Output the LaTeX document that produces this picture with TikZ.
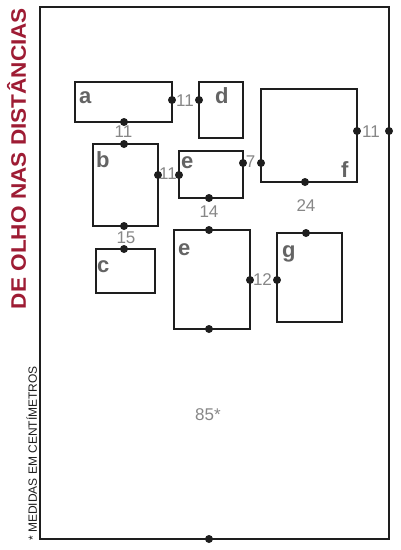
\documentclass[tikz,border=0pt]{standalone}
\usepackage{fontspec}
\setmainfont{Liberation Sans}
\usepackage{graphicx}
\definecolor{titlered}{RGB}{158,28,52}
\definecolor{inkline}{RGB}{30,30,30}
\definecolor{lettergray}{RGB}{100,100,100}
\definecolor{numgray}{RGB}{135,135,135}
\begin{document}
\begin{tikzpicture}[x=1pt,y=-1pt,
  room/.style={draw=inkline,line width=2pt,outer sep=0pt,inner sep=0pt},
  boxs/.style={draw=inkline,line width=2pt,outer sep=0pt,inner sep=0pt,rectangle},
  dotm/.style={circle,fill=inkline,inner sep=0pt,minimum size=8pt},
  lbl/.style={anchor=base west,inner sep=0pt,text=lettergray,font=\fontsize{22}{22}\selectfont\bfseries},
  num/.style={anchor=center,inner sep=0pt,text=numgray,font=\fontsize{17}{17}\selectfont}]
\useasboundingbox (0,0) rectangle (400,550);
\fill[white] (0,0) rectangle (400,550);
% outer frame
\node[boxs,minimum width=349pt,minimum height=532pt] (frame) at (214.5,273) {};
% boxes
\node[boxs,minimum width=97pt,minimum height=40pt] (a) at (123.5,102) {};
\node[boxs,minimum width=44pt,minimum height=56pt] (d) at (221,110) {};
\node[boxs,minimum width=65pt,minimum height=82pt] (b) at (125.5,185) {};
\node[boxs,minimum width=64pt,minimum height=47pt] (es) at (211,174.5) {};
\node[boxs,minimum width=96pt,minimum height=93pt] (f) at (309,135.5) {};
\node[boxs,minimum width=59pt,minimum height=44pt] (c) at (125.5,271) {};
\node[boxs,minimum width=76pt,minimum height=99pt] (eb) at (212,279.5) {};
\node[boxs,minimum width=65pt,minimum height=89pt] (g) at (309.5,277.5) {};
% letters
\node[lbl] (la) at (79,103) {a};
\node[lbl] (ld) at (215,103) {d};
\node[lbl] (lb) at (96,167) {b};
\node[lbl] (les) at (181,168) {e};
\node[lbl] (lf) at (341,177) {f};
\node[lbl] (lc) at (97,272) {c};
\node[lbl] (leb) at (178,255) {e};
\node[lbl] (lg) at (282,257) {g};
% dots
\node[dotm] (aR) at (172,100) {};
\node[dotm] (aB) at (124,122) {};
\node[dotm] (dL) at (199,100) {};
\node[dotm] (bT) at (124,144) {};
\node[dotm] (bR) at (158,175) {};
\node[dotm] (bB) at (124,226) {};
\node[dotm] (esL) at (179,175) {};
\node[dotm] (esR) at (243,163) {};
\node[dotm] (esB) at (209,198) {};
\node[dotm] (fL) at (261,163) {};
\node[dotm] (fR) at (357,131) {};
\node[dotm] (fB) at (305,182) {};
\node[dotm] (cT) at (124,249) {};
\node[dotm] (ebT) at (209,230) {};
\node[dotm] (ebR) at (250,280) {};
\node[dotm] (ebB) at (209,329) {};
\node[dotm] (gT) at (306,233) {};
\node[dotm] (gL) at (277,280) {};
\node[dotm] (frR) at (389,131) {};
\node[dotm] (frB) at (209,539) {};
% distances
\node[num] (n1) at (185,101) {11};
\node[num] (n2) at (123.5,131.5) {11};
\node[num] (n3) at (168,174) {11};
\node[num] (n4) at (250.5,162) {7};
\node[num] (n5) at (209,211.5) {14};
\node[num] (n6) at (126,237.5) {15};
\node[num] (n7) at (262.5,280) {12};
\node[num] (n8) at (371,132) {11};
\node[num] (n9) at (306,205.5) {24};
\node[num] (n10) at (208,414.5) {85*};
% titles
\node[rotate=90,anchor=base,inner sep=0pt,text=titlered,font=\fontsize{21}{21}\selectfont\bfseries] (title) at (26,158.5) {\scalebox{1.075}[1]{DE OLHO NAS DISTÂNCIAS}};
\node[rotate=90,anchor=base,inner sep=0pt,text=inkline,font=\fontsize{12}{12}\selectfont] (note) at (37,453.5) {* MEDIDAS EM CENTÍMETROS};
\end{tikzpicture}
\end{document}
